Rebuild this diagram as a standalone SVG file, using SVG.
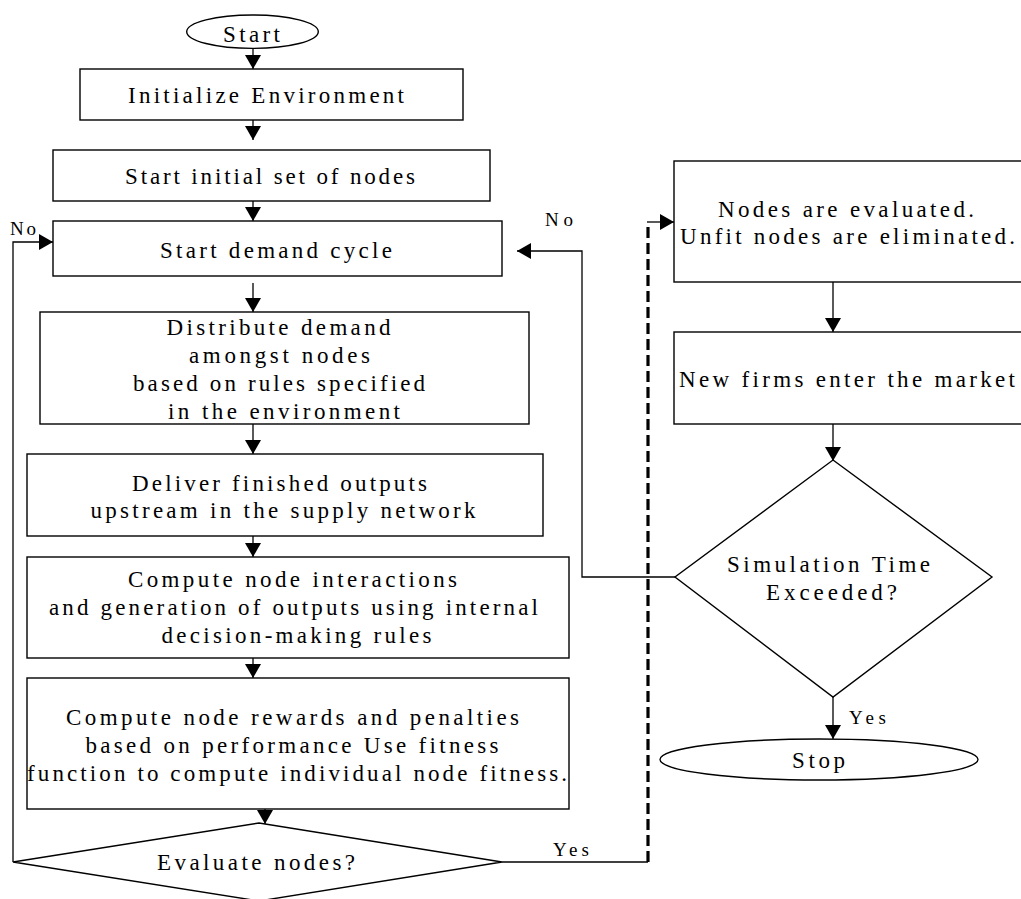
<svg xmlns="http://www.w3.org/2000/svg" width="1021" height="899" viewBox="0 0 1021 899">
<defs>
<style>
.box{fill:#fff;stroke:#000;stroke-width:1.4}
.ln{fill:none;stroke:#000;stroke-width:1.3}
.dash{fill:none;stroke:#000;stroke-width:3.2;stroke-dasharray:11 5}
text{font-family:"Liberation Serif","Times New Roman",serif;font-size:23px;fill:#000}
.lbl{font-size:19px}
</style>
<marker id="ah" markerUnits="userSpaceOnUse" markerWidth="16" markerHeight="16" refX="14" refY="8" orient="auto">
<path d="M0,0 L14,8 L0,16 Z" fill="#000"/>
</marker>
</defs>
<rect width="1021" height="899" fill="#fff"/>

<g id="connectors">
<line class="ln" x1="253" y1="48" x2="253" y2="69" marker-end="url(#ah)"/>
<line class="ln" x1="253" y1="120" x2="253" y2="140" marker-end="url(#ah)"/>
<line class="ln" x1="253" y1="201" x2="253" y2="221" marker-end="url(#ah)"/>
<line class="ln" x1="253" y1="283" x2="253" y2="312" marker-end="url(#ah)"/>
<line class="ln" x1="253" y1="424" x2="253" y2="454" marker-end="url(#ah)"/>
<line class="ln" x1="253" y1="536" x2="253" y2="557" marker-end="url(#ah)"/>
<line class="ln" x1="253" y1="658" x2="253" y2="678" marker-end="url(#ah)"/>
<line class="ln" x1="265" y1="809" x2="265" y2="824" marker-end="url(#ah)"/>
<polyline class="ln" points="13,862 13,242 53,242" marker-end="url(#ah)"/>
<polyline class="ln" points="502,862 648,862"/>
<line class="dash" x1="648" y1="862" x2="648" y2="224"/>
<polyline class="ln" points="647,222 674,222" marker-end="url(#ah)"/>
<line class="ln" x1="833" y1="282" x2="833" y2="332" marker-end="url(#ah)"/>
<line class="ln" x1="833" y1="424" x2="833" y2="461" marker-end="url(#ah)"/>
<line class="ln" x1="833" y1="697" x2="833" y2="739" marker-end="url(#ah)"/>
<polyline class="ln" points="675,577 582,577 582,251 517,251" marker-end="url(#ah)"/>
<text class="lbl" x="10" y="235" textLength="26" lengthAdjust="spacing">No</text>
<text class="lbl" x="545" y="226" textLength="28" lengthAdjust="spacing">No</text>
<text class="lbl" x="553" y="856" textLength="36" lengthAdjust="spacing">Yes</text>
<text class="lbl" x="849" y="724" textLength="37" lengthAdjust="spacing">Yes</text>
</g>

<g id="start">
<ellipse class="box" cx="252.5" cy="31.7" rx="65.8" ry="16.7"/>
<text x="223" y="41.5" textLength="57" lengthAdjust="spacing">Start</text>
</g>

<g id="init">
<rect class="box" x="80" y="69" width="383" height="51"/>
<text x="128" y="103" textLength="276" lengthAdjust="spacing">Initialize Environment</text>
</g>

<g id="initial-nodes">
<rect class="box" x="53" y="150" width="437" height="51"/>
<text x="125" y="184" textLength="290" lengthAdjust="spacing">Start initial set of nodes</text>
</g>

<g id="demand-cycle">
<rect class="box" x="53" y="221" width="449" height="55"/>
<text x="160" y="258" textLength="232" lengthAdjust="spacing">Start demand cycle</text>
</g>

<g id="distribute">
<rect class="box" x="40" y="312" width="489" height="112"/>
<text x="166.5" y="335" textLength="224" lengthAdjust="spacing">Distribute demand</text>
<text x="189" y="363" textLength="181" lengthAdjust="spacing">amongst nodes</text>
<text x="133" y="391" textLength="292" lengthAdjust="spacing">based on rules specified</text>
<text x="168" y="419" textLength="232" lengthAdjust="spacing">in the environment</text>
</g>

<g id="deliver">
<rect class="box" x="27" y="454" width="516" height="82"/>
<text x="132" y="491" textLength="295" lengthAdjust="spacing">Deliver finished outputs</text>
<text x="90.5" y="518" textLength="385" lengthAdjust="spacing">upstream in the supply network</text>
</g>

<g id="interactions">
<rect class="box" x="27" y="557" width="542" height="101"/>
<text x="128" y="587" textLength="329" lengthAdjust="spacing">Compute node interactions</text>
<text x="49" y="615" textLength="489" lengthAdjust="spacing">and generation of outputs using internal</text>
<text x="161.5" y="643" textLength="270" lengthAdjust="spacing">decision-making rules</text>
</g>

<g id="rewards">
<rect class="box" x="27" y="678" width="542" height="131"/>
<text x="66" y="725" textLength="453" lengthAdjust="spacing">Compute node rewards and penalties</text>
<text x="85.5" y="753" textLength="413" lengthAdjust="spacing">based on performance Use fitness</text>
<text x="27" y="781" textLength="540" lengthAdjust="spacing">function to compute individual node fitness.</text>
</g>

<g id="evaluate-decision">
<polygon class="box" points="13,862 259,823 502,862 259,901"/>
<text x="157" y="870" textLength="198" lengthAdjust="spacing">Evaluate nodes?</text>
</g>

<g id="nodes-evaluated">
<rect class="box" x="674" y="161" width="360" height="121"/>
<text x="718" y="216.5" textLength="256" lengthAdjust="spacing">Nodes are evaluated.</text>
<text x="680" y="244" textLength="335" lengthAdjust="spacing">Unfit nodes are eliminated.</text>
</g>

<g id="new-firms">
<rect class="box" x="674" y="332" width="360" height="92"/>
<text x="679" y="387" textLength="336" lengthAdjust="spacing">New firms enter the market</text>
</g>

<g id="sim-decision">
<polygon class="box" points="833,460 992,577 833,697 675,577"/>
<text x="727" y="571.5" textLength="203" lengthAdjust="spacing">Simulation Time</text>
<text x="766" y="600" textLength="131" lengthAdjust="spacing">Exceeded?</text>
</g>

<g id="stop">
<ellipse class="box" cx="819" cy="759.5" rx="159" ry="20.5"/>
<text x="792" y="768" textLength="53" lengthAdjust="spacing">Stop</text>
</g>
</svg>
